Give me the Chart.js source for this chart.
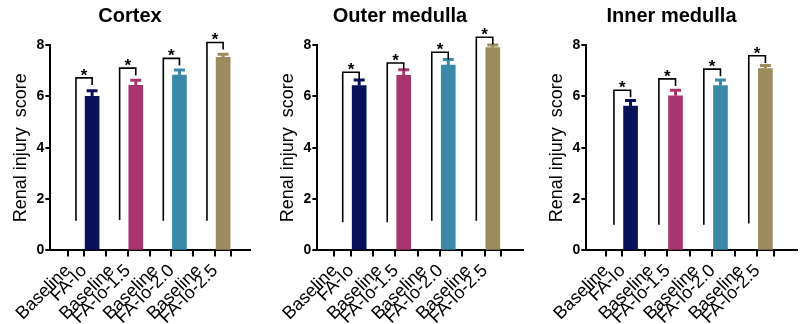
<!DOCTYPE html>
<html>
<head>
<meta charset="utf-8">
<script src="https://cdn.jsdelivr.net/npm/chart.js@4.4.1/dist/chart.umd.min.js"></script>
<style>
    html, body { margin: 0; padding: 0; background: #fff; }
    .panel { position: absolute; top: 0; height: 324px; }
</style>
</head>
<body>
<div class="panel" style="left:0;width:266px"><canvas id="cortexChart"></canvas></div>
<div class="panel" style="left:266px;width:266px"><canvas id="outerChart"></canvas></div>
<div class="panel" style="left:532px;width:268px"><canvas id="innerChart"></canvas></div>
<script>
const categories = ["Baseline", "FA-Io", "Baseline", "FA-Io-1.5", "Baseline", "FA-Io-2.0", "Baseline", "FA-Io-2.5"];
const yTicks = [0, 2, 4, 6, 8];
const barColors = ["#0b1158", "#a9356f", "#3a89a6", "#9c8c5d"];

// mean scores (baseline = 0, no bar drawn)
const cortexMean = [0, 6.0, 0, 6.43, 0, 6.83, 0, 7.52];
const cortexErr = [0, 0.22, 0, 0.2, 0, 0.2, 0, 0.12];
const cortexBracket = [6.72, 7.1, 7.48, 8.1];
const cortexLegStart = [1.15, 1.18, 1.15, 1.15];

const outerMean = [0, 6.42, 0, 6.82, 0, 7.22, 0, 7.9];
const outerErr = [0, 0.22, 0, 0.22, 0, 0.22, 0, 0.1];
const outerBracket = [6.94, 7.3, 7.72, 8.3];
const outerLegStart = [1.1, 1.1, 1.15, 1.15];

const innerMean = [0, 5.62, 0, 6.02, 0, 6.42, 0, 7.08];
const innerErr = [0, 0.22, 0, 0.22, 0, 0.22, 0, 0.12];
const innerBracket = [6.24, 6.68, 7.06, 7.58];
const innerLegStart = [1.0, 1.0, 1.0, 1.05];

const pairOffset = 0.37;
const FONT = "'Liberation Sans', Arial, sans-serif";

function xPos(i) {
    return Math.floor(i / 2) + (i % 2) * pairOffset;
}

const sigMarks = {
    id: "sigMarks",
    afterDatasetsDraw(chart, args, opts) {
        const ctx = chart.ctx;
        const x = chart.scales.x;
        const y = chart.scales.y;
        ctx.save();
        // error bars (upper half only)
        opts.mean.forEach((m, i) => {
            if (!opts.err[i]) return;
            const px = x.getPixelForValue(xPos(i));
            const top = y.getPixelForValue(m + opts.err[i]);
            ctx.strokeStyle = barColors[Math.floor(i / 2)];
            ctx.lineWidth = 3;
            ctx.beginPath();
            ctx.moveTo(px, y.getPixelForValue(m));
            ctx.lineTo(px, top);
            ctx.moveTo(px - 5.5, top);
            ctx.lineTo(px + 5.5, top);
            ctx.stroke();
        });
        // brackets and stars
        ctx.strokeStyle = "#000";
        ctx.lineWidth = 1.6;
        ctx.fillStyle = "#000";
        ctx.font = "bold 17px " + FONT;
        ctx.textAlign = "center";
        ctx.textBaseline = "alphabetic";
        opts.bracket.forEach((b, g) => {
            const x1 = x.getPixelForValue(xPos(g * 2));
            const x2 = x.getPixelForValue(xPos(g * 2 + 1));
            const yb = y.getPixelForValue(b);
            ctx.beginPath();
            ctx.moveTo(x1, y.getPixelForValue(opts.legStart[g]));
            ctx.lineTo(x1, yb);
            ctx.lineTo(x2, yb);
            ctx.lineTo(x2, y.getPixelForValue(b - 0.28));
            ctx.stroke();
            ctx.fillText("*", (x1 + x2) / 2, yb + 3);
        });
        ctx.restore();
    },
};

function makeChart(canvasId, title, mean, err, bracket, legStart, xMin, xMax, padding) {
    const ctx = document.getElementById(canvasId).getContext("2d");
    return new Chart(ctx, {
        type: "bar",
        data: {
            datasets: [
                {
                    data: categories.map((c, i) => ({ x: xPos(i), y: mean[i] })),
                    backgroundColor: categories.map((c, i) => (i % 2 ? barColors[Math.floor(i / 2)] : "rgba(0,0,0,0)")),
                    borderWidth: 0,
                    barThickness: 14,
                },
            ],
        },
        options: {
            responsive: true,
            maintainAspectRatio: false,
            animation: false,
            events: [],
            layout: { padding: padding },
            plugins: {
                legend: { display: false },
                tooltip: { enabled: false },
                title: {
                    display: true,
                    text: title,
                    color: "#000",
                    font: { family: FONT, size: 20, weight: "bold" },
                    padding: { top: 4, bottom: 17 },
                },
                sigMarks: { mean, err, bracket, legStart },
            },
            scales: {
                x: {
                    type: "linear",
                    min: xMin,
                    max: xMax,
                    afterBuildTicks: (scale) => {
                        scale.ticks = categories.map((c, i) => ({ value: xPos(i) }));
                    },
                    grid: { drawOnChartArea: false, color: "#000", lineWidth: 2, tickLength: 6 },
                    border: { color: "#000", width: 2 },
                    ticks: {
                        autoSkip: false,
                        minRotation: 45,
                        maxRotation: 45,
                        padding: 4,
                        labelOffset: -8,
                        color: "#000",
                        font: { family: FONT, size: 18 },
                        callback: (value, index) => categories[index],
                    },
                },
                y: {
                    min: 0,
                    max: 8,
                    afterBuildTicks: (scale) => {
                        scale.ticks = yTicks.map((v) => ({ value: v }));
                    },
                    grid: { drawOnChartArea: false, color: "#000", lineWidth: 2, tickLength: 5 },
                    border: { color: "#000", width: 2 },
                    ticks: {
                        padding: 1,
                        color: "#000",
                        font: { family: FONT, size: 14, weight: "bold" },
                    },
                    title: {
                        display: true,
                        text: "Renal injury  score",
                        color: "#000",
                        font: { family: FONT, size: 18 },
                        padding: { top: 0, bottom: 4 },
                    },
                },
            },
        },
        plugins: [sigMarks],
    });
}

makeChart("cortexChart", "Cortex", cortexMean, cortexErr, cortexBracket, cortexLegStart, -0.3, 3.7, { left: 10, right: 16, top: 0, bottom: -8 });
makeChart("outerChart", "Outer medulla", outerMean, outerErr, outerBracket, outerLegStart, -0.28, 3.76, { left: 11, right: 9, top: 0, bottom: -8 });
makeChart("innerChart", "Inner medulla", innerMean, innerErr, innerBracket, innerLegStart, -0.32, 3.78, { left: 14, right: 3, top: 0, bottom: -8 });
</script>
</body>
</html>
